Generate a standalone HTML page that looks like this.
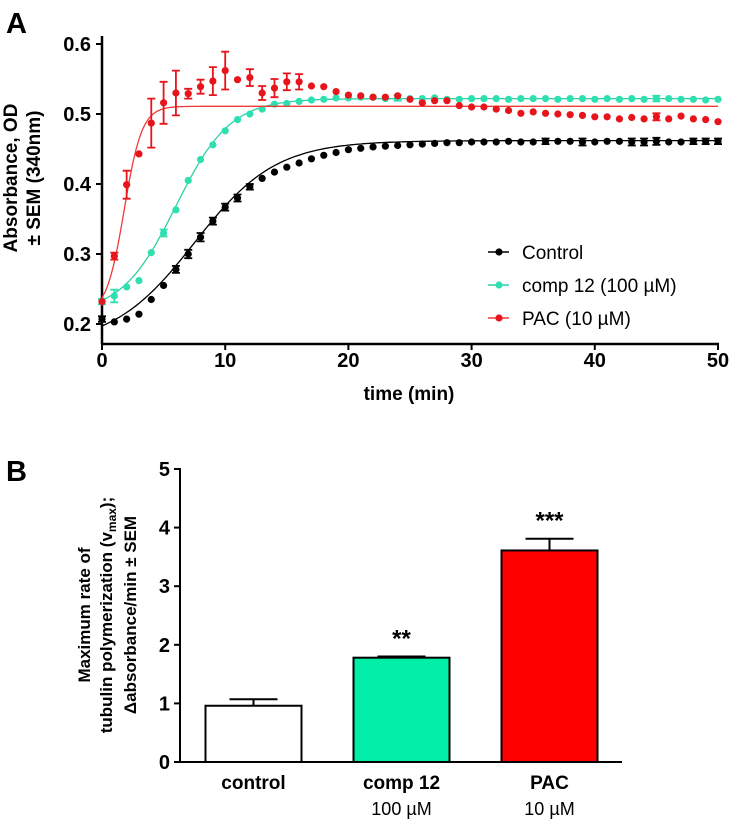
<!DOCTYPE html>
<html><head><meta charset="utf-8"><style>
html,body{margin:0;padding:0;background:#fff;}
svg{display:block;font-family:"Liberation Sans",Arial,sans-serif;}
</style></head><body>
<svg id="fig" width="730" height="823" viewBox="0 0 730 823">
<text x="6" y="33" font-size="29" font-weight="bold">A</text>
<text x="6" y="481" font-size="29" font-weight="bold">B</text>
<g font-size="19" font-weight="bold" text-anchor="middle">
<text transform="translate(17,178) rotate(-90)">Absorbance, OD</text>
<text transform="translate(40,178) rotate(-90)">± SEM (340nm)</text>
</g>
<text x="409" y="400" font-size="19" font-weight="bold" text-anchor="middle">time  (min)</text>
<g font-size="17" font-weight="bold" text-anchor="middle">
<text transform="translate(90,615) rotate(-90)">Maximum rate of</text>
<text transform="translate(112,615) rotate(-90)">tubulin polymerization (v<tspan font-size="12" dy="4">max</tspan><tspan dy="-4">);</tspan></text>
<text transform="translate(136,615) rotate(-90)">Δabsorbance/min ± SEM</text>
</g>
<g id="gA"></g>
<g id="gB"></g>
</svg>
<script>
// ---------- Panel A data ----------
const times = [0,1,2,3,4,5,6,7,8,9,10,11,12,13,14,15,16,17,18,19,20,21,22,23,24,25,26,27,28,29,30,31,32,33,34,35,36,37,38,39,40,41,42,43,44,45,46,47,48,49,50];
const controlVals = [.207,.203,.207,.214,.235,.255,.278,.300,.324,.347,.367,.380,.396,.408,.417,.424,.430,.436,.441,.445,.449,.451,.453,.454,.455,.456,.457,.458,.459,.459,.460,.460,.460,.461,.460,.460,.461,.461,.461,.460,.460,.461,.461,.460,.460,.461,.460,.460,.461,.461,.461];
const controlErr = [.004,0,0,0,0,0,.005,.006,.006,.005,.005,.005,.004,0,0,0,0,0,0,0,0,0,0,0,0,0,0,0,0,0,0,0,0,0,0,0,.004,0,0,.005,0,0,0,.005,.005,.005,0,0,.004,.004,.004];
const compVals = [.232,.240,.253,.262,.302,.330,.363,.405,.435,.456,.476,.492,.500,.507,.514,.515,.518,.520,.521,.523,.523,.524,.524,.522,.523,.522,.522,.523,.521,.521,.522,.522,.522,.521,.522,.522,.522,.521,.522,.522,.521,.522,.521,.522,.521,.522,.522,.521,.521,.520,.521];
const compErr = [.004,.009,0,0,0,.005,0,0,0,0,0,0,0,0,0,0,0,0,0,0,0,0,0,0,.004,0,0,0,0,0,0,0,0,0,0,0,0,0,0,0,0,0,0,0,0,.004,0,0,0,0,0];
const pacVals = [.232,.297,.399,.443,.487,.516,.530,.529,.539,.547,.562,.549,.552,.530,.537,.546,.546,.540,.539,.532,.527,.526,.524,.524,.526,.521,.516,.519,.519,.512,.510,.510,.507,.505,.501,.503,.501,.500,.499,.498,.496,.496,.493,.495,.493,.496,.493,.497,.493,.492,.489];
const pacErr = [0,.005,.02,0,.035,.03,.032,.007,.01,.02,.027,0,.012,.01,.013,.012,.011,0,0,0,0,0,0,0,0,0,0,0,0,0,0,0,0,0,0,0,0,0,0,0,0,0,0,0,0,.005,0,0,0,0,0];
// Boltzmann fit parameters: [bottom, top, v50, slope]
const controlFit = [0.17,0.462,7.5,3.3];
const compFit = [0.215,0.522,6.0,2.2];
const pacFit = [0.215,0.511,1.8,0.72];
const yTicksA = [0.2,0.3,0.4,0.5,0.6];
const xTicksA = [0,10,20,30,40,50];
const legendLabels = ["Control","comp 12 (100 \u00b5M)","PAC (10 \u00b5M)"];
// ---------- Panel B data ----------
const categories = ["control","comp 12","PAC"];
const subLabels = ["","100 \u00b5M","10 \u00b5M"];
const barVals = [0.96,1.78,3.61];
const barErr = [0.11,0.02,0.2];
const stars = ["","**","***"];
const yTicksB = [0,1,2,3,4,5];

const NS="http://www.w3.org/2000/svg";
function mk(parent,tag,attrs,text){const e=document.createElementNS(NS,tag);for(const k in attrs)e.setAttribute(k,attrs[k]);if(text!==undefined)e.textContent=text;parent.appendChild(e);return e;}
const gA=document.getElementById('gA'), gB=document.getElementById('gB');
const xA=t=>102+t*12.32;
const yA=v=>324-(v-0.2)*700;
let e=mk(gA,'line',{x1:102,y1:36,x2:102,y2:344,stroke:'#000','stroke-width':2.5});


e=mk(gA,'line',{x1:101,y1:344,x2:xA(50)+1,y2:344,stroke:'#000','stroke-width':2.5});


yTicksA.forEach(v=>{
  mk(gA,'line',{x1:96,y1:yA(v),x2:102,y2:yA(v),stroke:'#000','stroke-width':2});
  e=mk(gA,'text',{x:91,y:yA(v)+7,'font-size':20,'font-weight':'bold','text-anchor':'end'},v.toFixed(1));
  
  
});
xTicksA.forEach(v=>{
  mk(gA,'line',{x1:xA(v),y1:344,x2:xA(v),y2:350,stroke:'#000','stroke-width':2});
  e=mk(gA,'text',{x:xA(v),y:367,'font-size':20,'font-weight':'bold','text-anchor':'middle'},String(v));
  
  
});
function fitPath(p){let d='';for(let i=0;i<=200;i++){const t=i*50/200;const v=p[0]+(p[1]-p[0])/(1+Math.exp((p[2]-t)/p[3]));d+=(i?'L':'M')+xA(t).toFixed(1)+','+yA(v).toFixed(1);}return d;}
const series=[
 {vals:controlVals,err:controlErr,fit:controlFit,col:'#000',line:'#000',name:'control'},
 {vals:compVals,err:compErr,fit:compFit,col:'#2ee0b0',line:'#2ecfa5',name:'comp12'},
 {vals:pacVals,err:pacErr,fit:pacFit,col:'#e8141b',line:'#f03a3a',name:'pac'}];
series.forEach(s=>{
  const g=mk(gA,'g',{});
  
  
  const f=mk(g,'path',{d:fitPath(s.fit),fill:'none',stroke:s.line,'stroke-width':1.3});
  
  
  times.forEach((t,i)=>{
    const x=xA(t),y=yA(s.vals[i]),er=s.err[i]*700;
    if(er>0){
      mk(g,'path',{d:`M${x},${y-er}V${y+er}M${x-4},${y-er}H${x+4}M${x-4},${y+er}H${x+4}`,stroke:s.col,'stroke-width':1.8,fill:'none'});
    }
    const c=mk(g,'circle',{cx:x,cy:y,r:3.6,fill:s.col});
    
    
  });
});
legendLabels.forEach((lab,i)=>{
  const y=252+i*33;const s=series[i];
  const g=mk(gA,'g',{});
  
  
  mk(g,'line',{x1:488,y1:y,x2:509,y2:y,stroke:s.line,'stroke-width':1.5});
  mk(g,'circle',{cx:499,cy:y,r:3.6,fill:s.col});
  mk(g,'text',{x:522,y:y+7,'font-size':19},lab);
});
// ---------- Panel B ----------
const yB=v=>762-v*58.6;
e=mk(gB,'line',{x1:180,y1:468,x2:180,y2:763,stroke:'#000','stroke-width':2});


e=mk(gB,'line',{x1:179,y1:762,x2:622,y2:762,stroke:'#000','stroke-width':2});


yTicksB.forEach(v=>{
  mk(gB,'line',{x1:174,y1:yB(v),x2:180,y2:yB(v),stroke:'#000','stroke-width':2});
  e=mk(gB,'text',{x:170,y:yB(v)+7,'font-size':20,'font-weight':'bold','text-anchor':'end'},String(v));
  
  
});
const fills=['#ffffff','#00eea8','#ff0000'];
categories.forEach((c,i)=>{
  const cx=253.5+i*148, w=96;
  const top=yB(barVals[i]), et=yB(barVals[i]+barErr[i]);
  mk(gB,'path',{d:`M${cx},${top}V${et}M${cx-24},${et}H${cx+24}`,stroke:'#000','stroke-width':2,fill:'none'});
  const r=mk(gB,'rect',{x:cx-w/2,y:top,width:w,height:762-top,fill:fills[i],stroke:'#000','stroke-width':2});
  
  
  e=mk(gB,'text',{x:cx,y:789,'font-size':19,'font-weight':'bold','text-anchor':'middle'},c);
  
  
  if(subLabels[i]){e=mk(gB,'text',{x:cx,y:815,'font-size':18,'text-anchor':'middle'},subLabels[i]);
  
  }
  if(stars[i]){e=mk(gB,'text',{x:cx,y:et-10,'font-size':24,'font-weight':'bold','text-anchor':'middle'},stars[i]);
  
  }
});
</script>
</body></html>
